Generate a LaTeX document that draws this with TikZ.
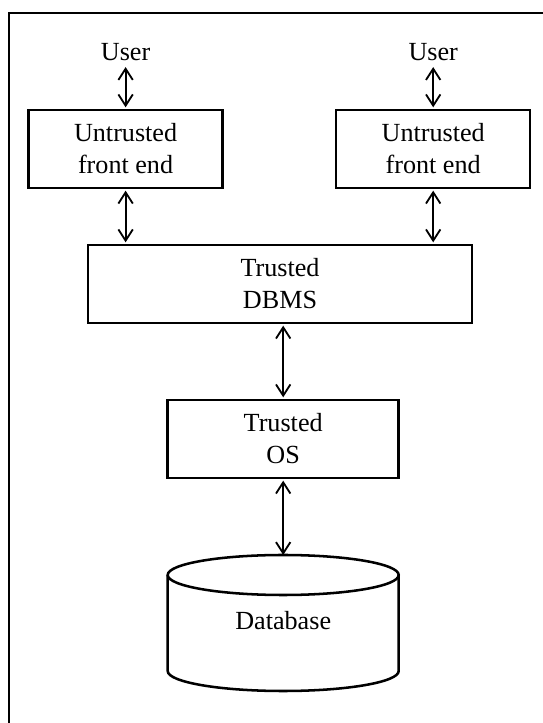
\documentclass[tikz,border=0pt]{standalone}
\usepackage{fontspec}
\setmainfont{Liberation Serif}
\usepackage{tikz}
\usetikzlibrary{positioning, arrows.meta}

\tikzset{
	box/.style={draw, line width=1.8pt, align=center, minimum height=1.95cm, inner sep=0pt},
	link/.style={{Straight Barb[length=2.8mm, width=3.6mm]}-{Straight Barb[length=2.8mm, width=3.6mm]}, line width=1.3pt, shorten <=1pt, shorten >=1pt}
}

\begin{document}
\begin{tikzpicture}[font=\fontsize{18.6}{22.8}\selectfont]
	\useasboundingbox (0, 0) rectangle (13.575, 18.075);

	% frame
	\draw[line width=2.1pt] (13.575, 17.75) -- (0.225, 17.75) -- (0.225, 0);

	\node[box, minimum width=9.6cm] (dbms) at (7.0, 10.975) {Trusted\\DBMS};
	\node[box, minimum width=5.775cm] (os) at (7.08, 7.1) {Trusted\\OS};

	\foreach \s/\x in {L/3.14, R/10.83} {
		\node (user\s) at (\x, 16.775) {User};
		\node[box, minimum width=4.85cm] (fe\s) at (\x, 14.35) {Untrusted\\front end};
		\draw[link] (user\s) -- (fe\s);
		\draw[link] (fe\s.south) -- (fe\s.south |- dbms.north);
	};

	\draw[link] (os.north |- dbms.south) -- (os.north);

	% database cylinder
	\node (db) at (7.08, 2.55) {Database};
	\coordinate (dbtop) at (7.08, 4.2);
	\draw[line width=1.8pt] (7.08, 3.7) ellipse [x radius=2.8875cm, y radius=0.5cm];
	\draw[line width=1.8pt] (4.1925, 3.7) -- (4.1925, 1.3)
		arc [start angle=180, end angle=360, x radius=2.8875cm, y radius=0.5cm]
		-- (9.9675, 3.7);

	\draw[link, shorten >=0pt] (os.south) -- (dbtop);
\end{tikzpicture}
\end{document}
